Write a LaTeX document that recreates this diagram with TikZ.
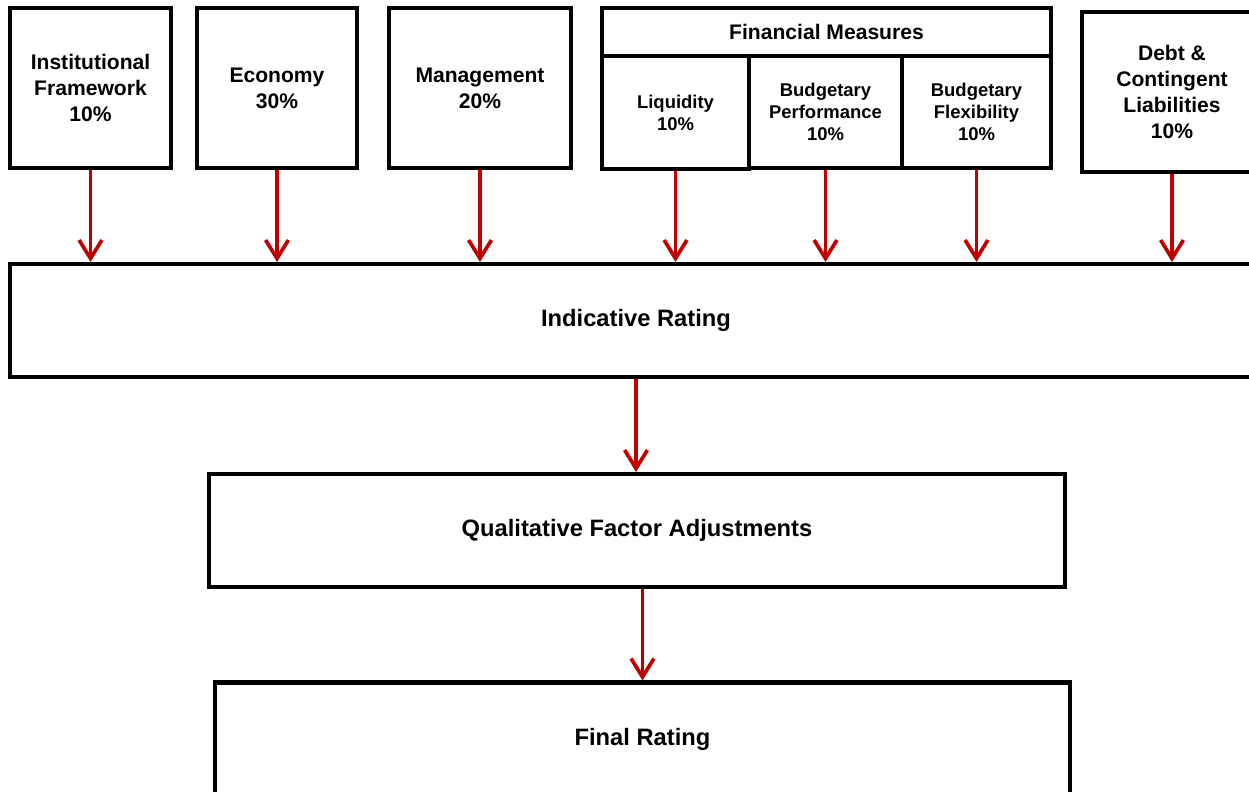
\documentclass[tikz,border=0pt]{standalone}
\usepackage{fontspec}
\setmainfont{Liberation Sans}
\usetikzlibrary{arrows.meta, positioning}
\definecolor{cred}{HTML}{C00000}
\definecolor{cblack}{HTML}{000000}
\tikzset{
  every picture/.style={font=\bfseries, line width=2.3pt},
  box/.style={draw=cblack, fill=white, align=center, inner sep=2pt, minimum width=#1},
  box/.default=3.2cm,
  arrow/.style={-{Straight Barb[length=10.5pt, width=13pt, line width=2.1pt]}, draw=cred, line width=2.1pt},
}

\begin{document}
\begin{tikzpicture}[
    tall/.style={box=#1, minimum height=3.2cm},
    part/.style={box=#1, minimum height=2.25cm, font=\fontsize{10.5}{12.6}\selectfont\bfseries},
    stage/.style={box=#1, minimum height=2.26cm, font=\fontsize{13.5}{16}\selectfont\bfseries},
    every node/.append style={font=\fontsize{12}{14.7}\selectfont\bfseries},
  ]
  \useasboundingbox (0,0) rectangle (24.98,-15.82);

  % factors
  \node[tall=3.22cm] (inst) at (1.81,-1.76)  {Institutional\\Framework\\10\%};
  \node[tall=3.2cm]  (econ) at (5.54,-1.76)  {Economy\\30\%};
  \node[tall=3.64cm] (mgmt) at (9.6,-1.76)   {Management\\20\%};

  % financial measures
  \node[box=8.98cm, minimum height=0.96cm] (fin) at (16.53,-0.64) {Financial Measures};
  \node[part=2.94cm] (liq)  at (13.51,-2.25) {Liquidity\\10\%};
  \node[part=3.06cm] (perf) at (16.51,-2.24) {Budgetary\\Performance\\10\%};
  \node[part=2.98cm] (flex) at (19.53,-2.24) {Budgetary\\Flexibility\\10\%};

  \node[tall=3.6cm] (debt) at (23.44,-1.84) {Debt \&\\Contingent\\Liabilities\\10\%};

  % rating steps
  \node[stage=25.04cm] (ind)   at (12.72,-6.41)  {Indicative Rating};
  \node[stage=17.12cm] (qual)  at (12.74,-10.61) {Qualitative Factor Adjustments};
  \node[stage=17.1cm]  (final) at (12.85,-14.78) {Final Rating};

  \foreach \f in {inst, econ, mgmt, liq, perf, flex, debt}
    \draw[arrow] (\f.south) -- (\f.south |- ind.north);
  \draw[arrow] (ind.south) -- (ind.south |- qual.north);
  \draw[arrow] (qual.south -| final.north) -- (final.north);
\end{tikzpicture}
\end{document}
